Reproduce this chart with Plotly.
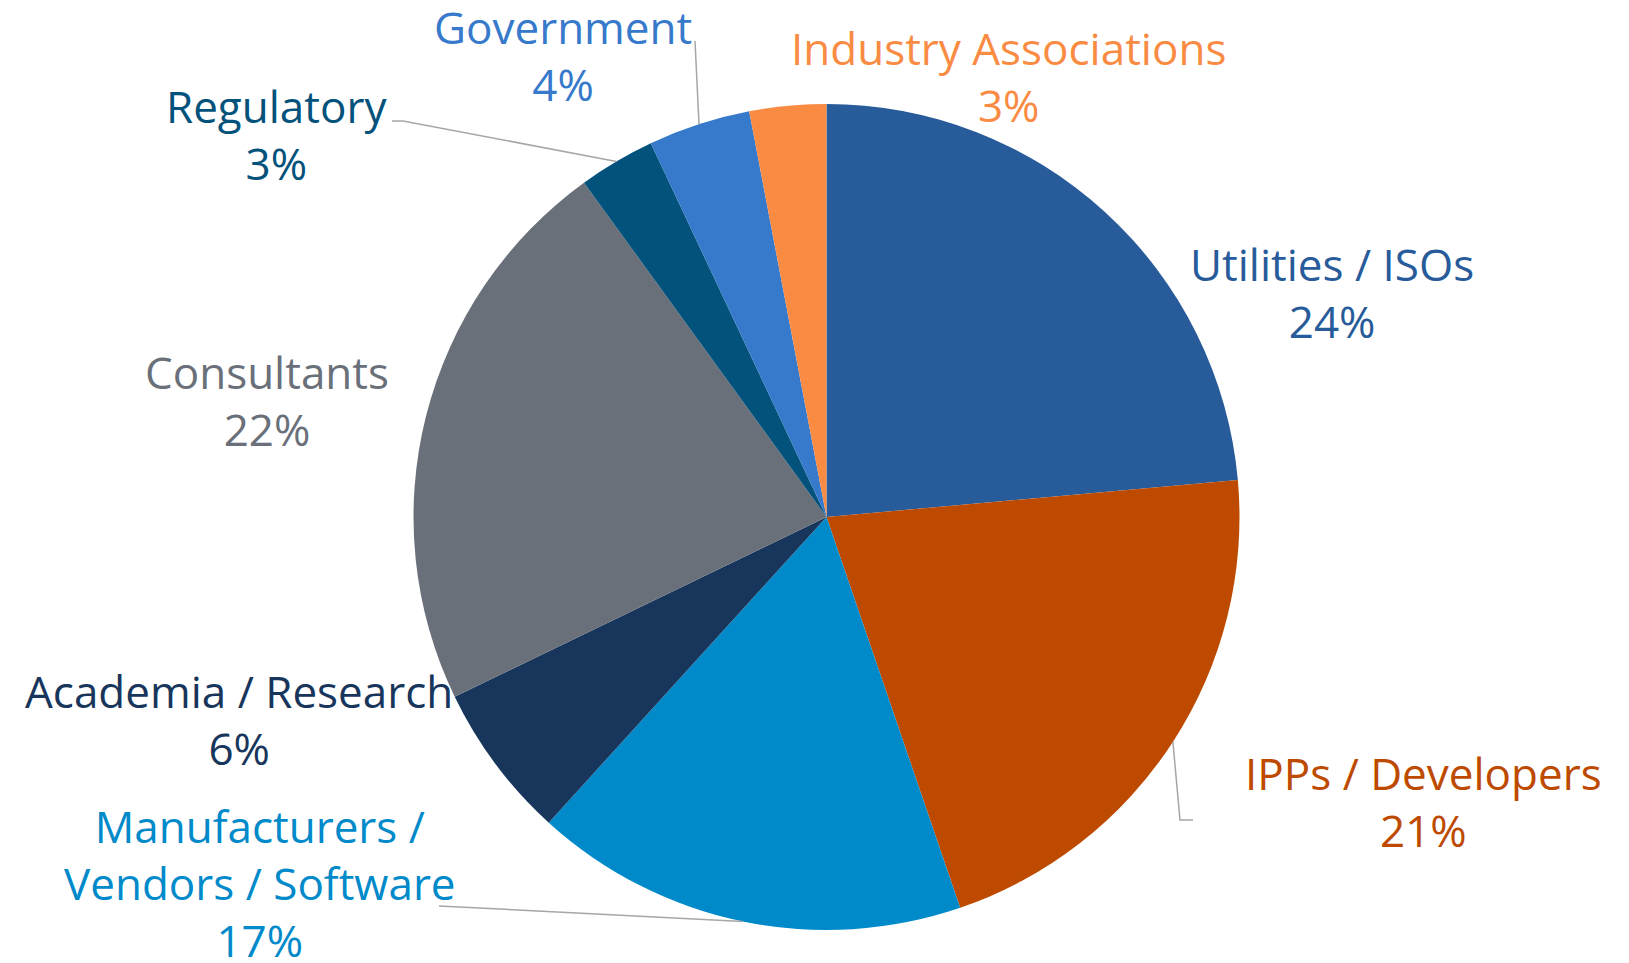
import math
import plotly.graph_objects as go

# ---- data ----
categories = ["Utilities / ISOs", "IPPs / Developers", "Manufacturers /<br>Vendors / Software",
              "Academia / Research", "Consultants", "Regulatory", "Government",
              "Industry Associations"]
shares = [23.6, 21.2, 17.0, 6.1, 22.2, 3.0, 4.0, 3.0]
colors = ["#275B9A", "#BE4A00", "#008ACA", "#18365C", "#6A7079", "#03527B", "#3779CA", "#F98B43"]

# label block centres (screen pixels)
label_pos = [(1332, 293), (1423, 801), (260, 883), (239, 719), (267, 400),
             (276, 134), (563, 55), (1008, 76)]

W, H = 1629, 963
OFF = 8  # page body margin
CX, CY, R = 826.5, 517, 413  # pie geometry in screen pixels

def px(x):
    return (x - OFF) / W

def py(y):
    return 1 - (y - OFF) / H

fig = go.Figure(go.Pie(
    labels=categories, values=shares, sort=False, direction="clockwise", rotation=0,
    marker=dict(colors=colors, line=dict(width=0)), textinfo="none", hoverinfo="label+percent",
    domain=dict(x=[px(CX - R), px(CX + R)], y=[py(CY + R), py(CY - R)]),
    showlegend=False,
))

total = sum(shares)
annotations = []
for cat, val, col, (lx, ly) in zip(categories, shares, colors, label_pos):
    pct = round(100 * val / total)
    annotations.append(dict(
        x=px(lx), y=py(ly), xref="paper", yref="paper", showarrow=False,
        text=f"{cat}<br>{pct}%", align="center", xanchor="center", yanchor="middle",
        font=dict(family="Open Sans", size=44, color=col),
    ))

# slice mid-points on the rim (from data)
mids = []
cum = 0
for v in shares:
    a = (cum + v / 2) / total * 2 * math.pi
    mids.append((CX + R * math.sin(a), CY - R * math.cos(a)))
    cum += v

def path(points):
    return "M " + " L ".join(f"{px(x)},{py(y)}" for x, y in points)

leaders = {
    5: [(392, 121), (403, 121)],          # Regulatory
    6: [(695, 41)],                        # Government
    1: [(1193, 820), (1180, 820)],        # IPPs
    2: [(439, 906)],                       # Manufacturers
}
shapes = []
for idx, pts in leaders.items():
    shapes.append(dict(type="path", xref="paper", yref="paper",
                       path=path(pts + [mids[idx]]),
                       line=dict(color="#A6A6A6", width=1.5)))

fig.update_layout(
    width=W, height=H, margin=dict(l=0, r=0, t=0, b=0),
    paper_bgcolor="white", plot_bgcolor="white",
    annotations=annotations, shapes=shapes,
)
fig.write_html("out.html")
